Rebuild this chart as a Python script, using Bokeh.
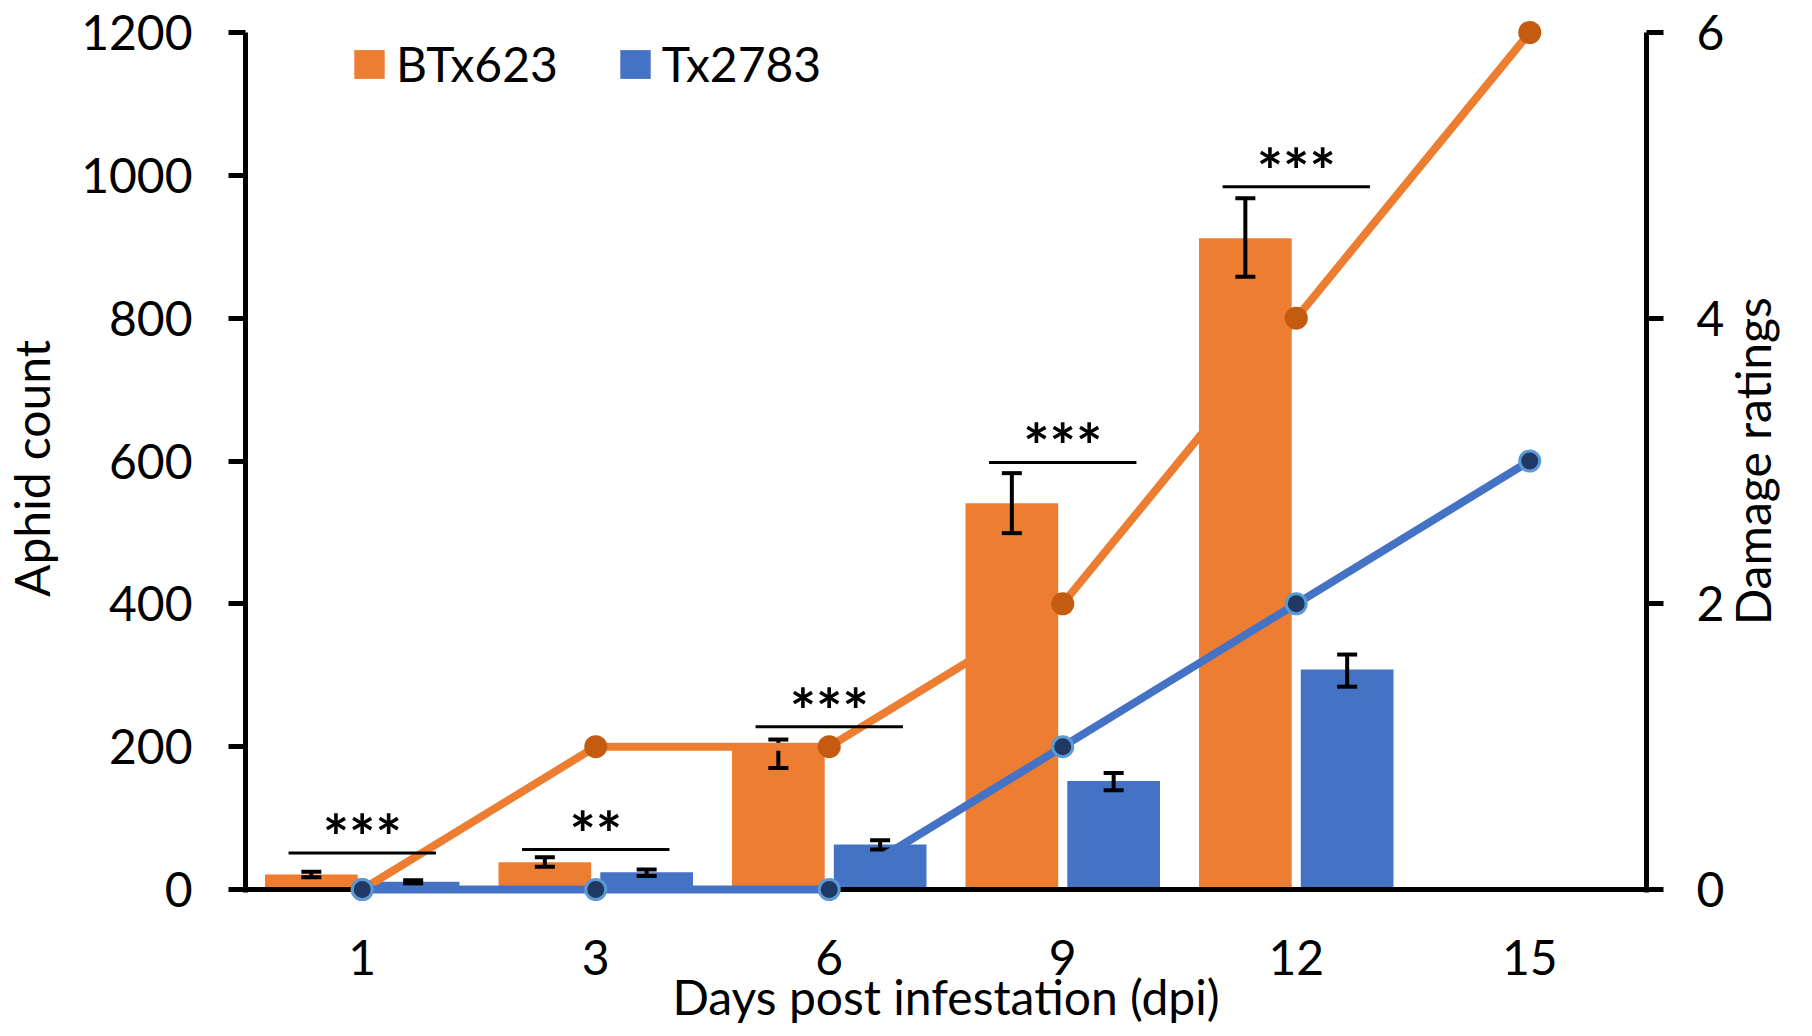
import math
from bokeh.plotting import figure
from bokeh.models import (ColumnDataSource, FactorRange, Range1d, LinearAxis, FixedTicker,
                          Whisker, TeeHead, Legend, LegendItem, Span)
from bokeh.transform import dodge
from bokeh.core.properties import value
from bokeh.embed import file_html
from bokeh.resources import INLINE

# ---------------- data ----------------
days = ["1", "3", "6", "9", "12", "15"]
bar_days = ["1", "3", "6", "9", "12"]
btx_count = [21, 38, 205, 541, 912]
btx_low = [17, 32, 170, 499, 858]
btx_high = [25, 45, 210, 583, 968]
tx_count = [11, 24, 63, 152, 308]
tx_low = [8, 19, 56, 139, 284]
tx_high = [13, 28, 69, 163, 329]
btx_damage = [0, 1, 1, 2, 4, 6]
tx_damage = [0, 0, 0, 1, 2, 3]
sig_text = ["***", "**", "***", "***", "***"]
sig_level = [51, 56, 228, 598, 984]
left_ticks = [0, 200, 400, 600, 800, 1000, 1200]
right_ticks = [0, 2, 4, 6]
right_title = "Damage ratings"

# ---------------- style ----------------
ORANGE = "#ED7D31"
BLUE = "#4472C4"
ORANGE_DOT = "#C55A11"
BLUE_DOT = "#1F3864"
BLUE_RING = "#5B9BD5"
FONT = "Lato"
FS = "48px"

bars = ColumnDataSource(dict(day=bar_days, btx=btx_count, btx_lo=btx_low, btx_hi=btx_high,
                             tx=tx_count, tx_lo=tx_low, tx_hi=tx_high,
                             sig=sig_text, sig_y=sig_level))
lines = ColumnDataSource(dict(day=days, btx=btx_damage, tx=tx_damage))

W, H = 1812, 1034
p = figure(width=W, height=H, x_range=FactorRange(factors=days),
           y_range=Range1d(-21, 1200), output_backend="svg", toolbar_location=None,
           min_border_left=241, min_border_right=W - 1648, min_border_top=32,
           min_border_bottom=H - 904)
p.extra_y_ranges = {"dmg": Range1d(-0.105, 6)}
p.outline_line_color = None
p.xgrid.visible = False
p.ygrid.visible = False


def style(ax, tick_out, standoff, title, title_standoff):
    ax.axis_line_width = 5
    ax.axis_line_color = "black"
    ax.major_tick_line_width = 5
    ax.major_tick_line_color = "black"
    ax.major_tick_out = tick_out
    ax.major_tick_in = 0
    ax.minor_tick_line_color = None
    ax.major_label_text_font = FONT
    ax.major_label_text_font_size = FS
    ax.major_label_text_color = "black"
    ax.major_label_standoff = standoff
    ax.axis_label = title
    ax.axis_label_text_font = FONT
    ax.axis_label_text_font_size = FS
    ax.axis_label_text_font_style = "normal"
    ax.axis_label_text_color = "black"
    ax.axis_label_standoff = title_standoff


yax = p.yaxis[0]
yax.ticker = FixedTicker(ticks=left_ticks)
yax.bounds = (-3.5, 1200)
style(yax, 17, 36, "Aphid count", 18)

# right value axis (damage ratings)
rax = LinearAxis(y_range_name="dmg", ticker=FixedTicker(ticks=[float(t) for t in right_ticks]),
                 bounds=(-0.0175, 6))
style(rax, 17, 33, None, 0)
p.add_layout(rax, "right")

# companion axis carrying the right title, rotated to read bottom-to-top
title_pos = 1.85
tax = LinearAxis(y_range_name="dmg", ticker=FixedTicker(ticks=[title_pos]))
style(tax, 0, 25, None, 0)
tax.axis_line_color = None
tax.major_tick_line_color = None
tax.major_label_overrides = {title_pos: right_title}
tax.major_label_orientation = math.pi / 2
p.add_layout(tax, "right")

xax = p.xaxis[0]
style(xax, 0, 35, "Days post infestation (dpi)", -10)
xax.major_tick_line_color = None
xax.axis_line_color = None

# bars
off = 0.218
bw = 0.397
r1 = p.vbar(x=dodge("day", -off, range=p.x_range), top="btx", width=bw, source=bars,
            fill_color=ORANGE, line_color=None)
r2 = p.vbar(x=dodge("day", off, range=p.x_range), top="tx", width=bw, source=bars,
            fill_color=BLUE, line_color=None)

# baseline of the count axis (y = 0)
p.add_layout(Span(location=0, dimension="width", line_color="black", line_width=5))

# error bars
for col, o in (("btx", -off), ("tx", off)):
    w = Whisker(source=bars, base=dodge("day", o, range=p.x_range),
                upper=col + "_hi", lower=col + "_lo", line_width=4, line_color="black",
                level="annotation")
    w.upper_head = TeeHead(size=20, line_width=4, line_color="black")
    w.lower_head = TeeHead(size=20, line_width=4, line_color="black")
    p.add_layout(w)

# damage lines
p.line(x="day", y="btx", source=lines, y_range_name="dmg", line_color=ORANGE,
       line_width=8, line_join="round", level="overlay")
p.scatter(x="day", y="btx", source=lines, y_range_name="dmg", size=23,
          fill_color=ORANGE_DOT, line_color=None, level="overlay")
p.line(x="day", y="tx", source=lines, y_range_name="dmg", line_color=BLUE,
       line_width=8, line_join="round", level="overlay")
p.scatter(x="day", y="tx", source=lines, y_range_name="dmg", size=20,
          fill_color=BLUE_DOT, line_color=BLUE_RING, line_width=3, level="overlay")

# significance
half = 0.3156
p.segment(x0=dodge("day", -half, range=p.x_range), y0="sig_y",
          x1=dodge("day", half, range=p.x_range), y1="sig_y", source=bars,
          line_color="black", line_width=3, level="overlay")
p.text(x="day", y="sig_y", text="sig", source=bars, text_font=value(FONT),
       text_font_size=value("62px"), text_font_style="bold", text_align="center",
       text_baseline="alphabetic", text_color="black", y_offset=-17, level="overlay")

# legend
legend = Legend(items=[LegendItem(label="BTx623", renderers=[r1]),
                       LegendItem(label="Tx2783", renderers=[r2])],
                orientation="horizontal", location=(105, 812), padding=0, margin=0,
                spacing=58, glyph_width=38, glyph_height=36, label_standoff=8,
                label_text_font=FONT, label_text_font_size=FS, label_text_color="black",
                border_line_color=None, background_fill_alpha=0)
p.add_layout(legend, "center")

open("out.html", "w").write(file_html(p, INLINE))
